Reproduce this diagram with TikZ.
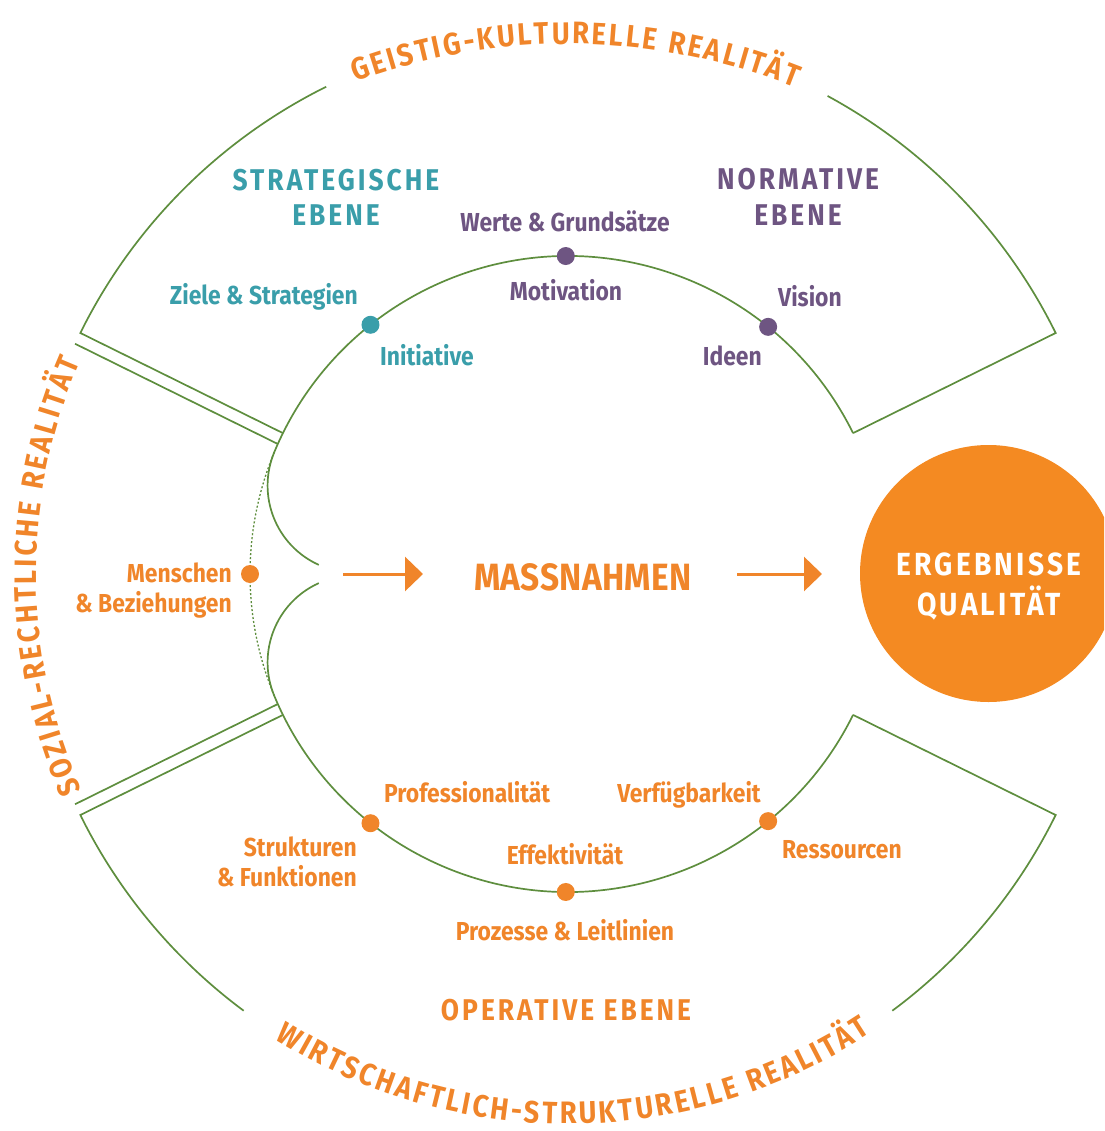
\documentclass[tikz,border=0pt]{standalone}
\usepackage{fontspec}
\setmainfont{Fira Sans}[FakeStretch=0.88]
\usetikzlibrary{arrows.meta,decorations.text,calc}
\definecolor{lgreen}{HTML}{5E8E3E}
\definecolor{orng}{HTML}{F0852A}
\definecolor{orfill}{HTML}{F48A22}
\definecolor{teal2}{HTML}{3A9EAA}
\definecolor{purp}{HTML}{6E5582}
\newcommand\curvefont{\color{orng}\fontsize{31}{31}\selectfont\bfseries}
\begin{document}
\begin{tikzpicture}[x=1pt,y=1pt,
  gline/.style={draw=lgreen, line width=1.7pt},
  dotn/.style={circle, fill=#1, draw=none, inner sep=0pt, minimum size=18pt},
  lab/.style={font=\fontsize{26}{30}\selectfont\bfseries, inner sep=0pt, text=#1},
  ttl/.style={font=\fontsize{30}{36}\selectfont\bfseries\addfontfeatures{LetterSpace=10}, inner sep=0pt, text=#1},
  bigt/.style 2 args={font=\fontsize{#1}{#1}\selectfont\bfseries\addfontfeatures{LetterSpace=#2}, inner sep=0pt},
  arr/.style={draw=orng, line width=3pt, -{Triangle[length=18pt,width=34pt]}},
]
\useasboundingbox (0,0) rectangle (1104,-1131);
\clip (0,0) rectangle (1104,-1131);
\coordinate (C) at (568,-574);
\coordinate (CT) at (568,-660);

% top sector
\draw[gline] ($(C)+(61.5:544pt)$) arc[start angle=61.5, end angle=26.3, radius=544pt] -- ($(C)+(26.3:318pt)$);
\draw[gline] ($(C)+(116.4:544pt)$) arc[start angle=116.4, end angle=153.7, radius=544pt] -- ($(C)+(153.7:318pt)$);
% bottom sector
\draw[gline] ($(C)+(-53.4:544pt)$) arc[start angle=-53.4, end angle=-26.3, radius=544pt] -- ($(C)+(-26.3:318pt)$);
\draw[gline] ($(C)+(-126.6:544pt)$) arc[start angle=-126.6, end angle=-153.7, radius=544pt] -- ($(C)+(-153.7:318pt)$);
% second lines of the left sector
\draw[gline] ($(C)+(153.7:318pt)+(243.7:12pt)$) -- ($(C)+(153.7:544pt)+(243.7:12pt)$);
\draw[gline] ($(C)+(-153.7:318pt)+(116.3:12pt)$) -- ($(C)+(-153.7:544pt)+(116.3:12pt)$);
% main ring with lobes
\draw[gline] ($(C)+(26.3:318pt)$) arc[start angle=26.3, end angle=157.5, radius=318pt]
   arc[start angle=157.5, end angle=245.7, radius=87pt];
\draw[gline] ($(C)+(-26.3:318pt)$) arc[start angle=-26.3, end angle=-157.5, radius=318pt]
   arc[start angle=-157.5, end angle=-245.7, radius=87pt];
\draw[lgreen, line width=1.3pt, dash pattern=on 2pt off 2pt] ($(C)+(157.5:318pt)$) arc[start angle=157.5, end angle=202.5, radius=318pt];

% dots
\node[dotn=teal2] (dI) at ($(C)+(128.4:318pt)$) {};
\node[dotn=purp] (dW) at ($(C)+(90.4:318pt)$) {};
\node[dotn=purp] (dV) at ($(C)+(51:318pt)$) {};
\node[dotn=orng] (dM) at ($(C)+(180:318pt)$) {};
\node[dotn=orng] (dS) at ($(C)+(-128.4:318pt)$) {};
\node[dotn=orng] (dP) at ($(C)+(-90.4:318pt)$) {};
\node[dotn=orng] (dR) at ($(C)+(-51:318pt)$) {};

% labels
\node[lab=teal2, anchor=base east] (tZiele) at (358,-305) {Ziele \& Strategien};
\node[lab=teal2, anchor=base west] (tInit) at (380,-365) {Initiative};
\node[lab=purp, anchor=base] (tWerte) at (565,-232) {Werte \& Grundsätze};
\node[lab=purp, anchor=base] (tMot) at (566,-301) {Motivation};
\node[lab=purp, anchor=base west] (tVis) at (778,-306) {Vision};
\node[lab=purp, anchor=base east] (tIdeen) at (762,-365) {Ideen};
\node[lab=orng, anchor=base east] (tMen1) at (232,-582) {Menschen};
\node[lab=orng, anchor=base east] (tMen2) at (232,-612) {\& Beziehungen};
\node[lab=orng, anchor=base west] (tProf) at (384,-802) {Professionalität};
\node[lab=orng, anchor=base east] (tVerf) at (761,-802) {Verfügbarkeit};
\node[lab=orng, anchor=base east] (tStr1) at (357,-856) {Strukturen};
\node[lab=orng, anchor=base east] (tStr2) at (357,-886) {\& Funktionen};
\node[lab=orng, anchor=base] (tEff) at (565,-864) {Effektivität};
\node[lab=orng, anchor=base west] (tRes) at (782,-858) {Ressourcen};
\node[lab=orng, anchor=base] (tProz) at (565,-940) {Prozesse \& Leitlinien};

% titles
\node[ttl=teal2, anchor=base] (tS1) at (336,-191) {STRATEGISCHE};
\node[ttl=teal2, anchor=base] (tS2) at (336,-226) {EBENE};
\node[ttl=purp, anchor=base] (tN1) at (798,-190) {NORMATIVE};
\node[ttl=purp, anchor=base] (tN2) at (798,-226) {EBENE};
\node[ttl=orng, anchor=base] (tOp) at (566,-1020) {OPERATIVE EBENE};
\node[bigt={38}{1}, text=orng, anchor=base] (tMass) at (583,-590) {MASSNAHMEN};

% arrows
\coordinate (a1s) at (343,-574);
\coordinate (a1e) at (423,-574);
\coordinate (a2s) at (737,-574);
\coordinate (a2e) at (822,-574);
\draw[arr] (a1s) -- (a1e);
\draw[arr] (a2s) -- (a2e);

% result circle
\node[circle, fill=orfill, draw=none, minimum size=257pt, inner sep=0pt] (res) at (988.5,-573.5) {};
\node[bigt={32}{10}, text=white, anchor=base] (tE1) at (989,-575) {ERGEBNISSE};
\node[bigt={32}{10}, text=white, anchor=base] (tE2) at (989,-615) {QUALITÄT};

% curved texts
\path[decorate, decoration={text along path, text align={fit to path}, text={|\curvefont|GEISTIG-KULTURELLE REALITÄT}}]
  ($(CT)+(110.2:616pt)$) arc[start angle=110.2, end angle=68.4, radius=616pt];
\path[decorate, decoration={text along path, text align={fit to path}, text={|\curvefont|SOZIAL-RECHTLICHE REALITÄT}}]
  ($(C)+(204:532pt)$) arc[start angle=204, end angle=156.5, radius=532pt];
\path[decorate, decoration={text along path, text align={fit to path}, text={|\curvefont|WIRTSCHAFTLICH-STRUKTURELLE REALITÄT}}]
  ($(C)+(237.8:550pt)$) arc[start angle=237.8, end angle=303.4, radius=550pt];
\end{tikzpicture}
\end{document}
